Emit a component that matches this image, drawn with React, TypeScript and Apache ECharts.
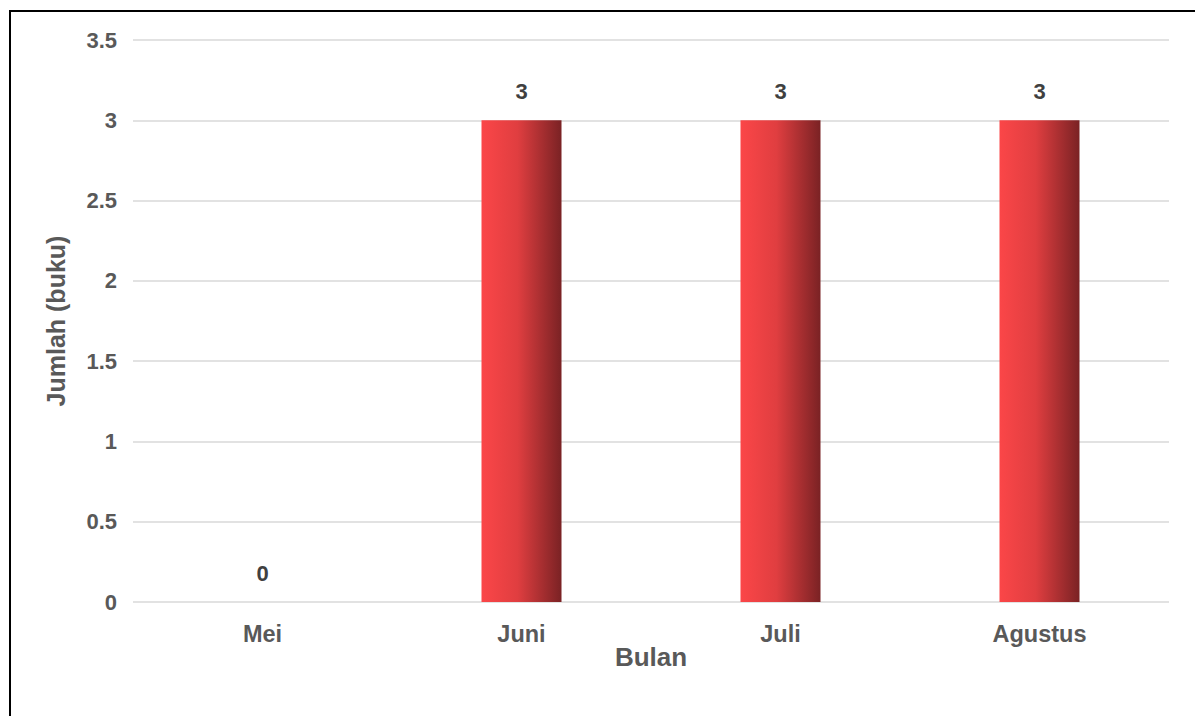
import React, { useEffect, useRef } from "react";
import * as echarts from "echarts";

const categories = ["Mei", "Juni", "Juli", "Agustus"];
const values = [0, 3, 3, 3];
const xAxisTitle = "Bulan";
const yAxisTitle = "Jumlah (buku)";

export default function App() {
  const ref = useRef<HTMLDivElement>(null);
  useEffect(() => {
    if (!ref.current) return;
    const chart = echarts.init(ref.current, null, { renderer: "svg" });
    const font = "'Liberation Sans', Arial, sans-serif";
    const grey = "#595959";
    chart.setOption({
      animation: false,
      backgroundColor: "#ffffff",
      grid: { left: 133, right: 26, top: 40, bottom: 114, containLabel: false },
      graphic: [
        {
          type: "rect",
          shape: { x: 10, y: 11, width: 1200, height: 720 },
          style: { fill: "none", stroke: "#000000", lineWidth: 2 },
          silent: true,
        },
      ],
      xAxis: {
        type: "category",
        data: categories,
        name: xAxisTitle,
        nameLocation: "middle",
        nameGap: 42,
        nameMoveOverlap: false,
        nameTextStyle: { fontFamily: font, fontWeight: "bold", fontSize: 26, color: grey, verticalAlign: "top" },
        axisLine: { show: false },
        axisTick: { show: false },
        axisLabel: { fontFamily: font, fontWeight: "bold", fontSize: 23.5, color: grey, margin: 20 },
      },
      yAxis: {
        type: "value",
        min: 0,
        max: 3.5,
        interval: 0.5,
        name: yAxisTitle,
        nameLocation: "middle",
        nameGap: 65,
        nameMoveOverlap: false,
        nameTextStyle: { fontFamily: font, fontWeight: "bold", fontSize: 25, color: grey },
        axisLine: { show: false },
        axisTick: { show: false },
        axisLabel: { fontFamily: font, fontWeight: "bold", fontSize: 22, color: grey, margin: 16 },
        splitLine: { lineStyle: { color: "#d9d9d9", width: 1.5 } },
      },
      series: [
        {
          type: "bar",
          data: values,
          barWidth: 80,
          itemStyle: {
            color: new echarts.graphic.LinearGradient(0, 0, 1, 0, [
              { offset: 0, color: "#fb4648" },
              { offset: 0.45, color: "#e03e40" },
              { offset: 1, color: "#7a2224" },
            ]),
          },
          label: {
            show: true,
            position: "top",
            distance: 18,
            fontFamily: font,
            fontWeight: "bold",
            fontSize: 22,
            color: "#404040",
          },
        },
      ],
    });
    return () => chart.dispose();
  }, []);
  return (
    <div style={{ position: "absolute", left: 0, top: 0 }}>
      <div ref={ref} style={{ width: 1195, height: 716 }} />
    </div>
  );
}
